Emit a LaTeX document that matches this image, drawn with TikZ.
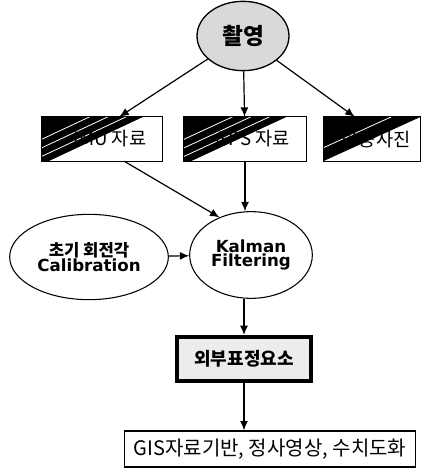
\documentclass[tikz,border=0pt]{standalone}
\usepackage{fontspec}
\setmainfont{DejaVu Sans}
\newfontfamily\kr{Noto Sans CJK KR}
\usepackage{tikz}
\usetikzlibrary{shapes.geometric}
\usetikzlibrary{positioning}
\usetikzlibrary{arrows.meta}
\usetikzlibrary{calc}
\tikzset{
  flow/.style={line width=0.9pt, -{Latex[length=7pt,width=6pt]}},
  oval/.style={ellipse, draw, line width=0.8pt, inner sep=0pt, align=center},
  databox/.style={rectangle, minimum height=33pt, inner sep=0pt},
  boxtext/.style={font=\kr\fontsize{14}{16}\selectfont},
}

\begin{document}
\begin{tikzpicture}[x=0.75pt, y=-0.75pt]

  \useasboundingbox (0,0) rectangle (422,470);

  % Define nodes
  \node[oval, fill=gray!30, line width=1pt, minimum width=69pt, minimum height=52pt] (shoot) at (243,36)
    {\kr\bfseries\fontsize{17}{20}\selectfont 촬영};

  \node[databox, minimum width=91pt] (imu) at (102,139) {};
  \node[databox, minimum width=92pt] (gps) at (245,139) {};
  \node[databox, minimum width=73pt] (photo) at (372,139) {};

  % Shaded boxes
  \foreach \b in {imu, gps} {
    \begin{scope}
      \clip (\b.north west) rectangle (\b.south east);
      \fill[black] (\b.north west) -- ($(\b.north west)!0.84!(\b.north east)$)
        -- ($(\b.south west)!0.06!(\b.south east)$) -- (\b.south west) -- cycle;
      \foreach \a in {0.7,0.55,0.4}
        \draw[white, line width=0.6pt] ($(\b.north west)!\a!(\b.north east)$)
          -- ($(\b.south west)!\a-0.78!(\b.south east)$);
    \end{scope}
    \draw[line width=0.8pt] (\b.north west) rectangle (\b.south east);
  }
  \begin{scope}
    \clip (photo.north west) rectangle (photo.south east);
    \fill[black] (photo.north west) -- (photo.north east) -- (photo.south west) -- cycle;
    \draw[white, line width=0.6pt] ($(photo.north west)!0.7!(photo.north east)$)
      -- ($(photo.south west)!-0.3!(photo.south east)$);
  \end{scope}
  \draw[line width=0.8pt] (photo.north west) rectangle (photo.south east);

  \node[boxtext, xshift=6pt] (imu_t) at (imu) {IMU 자료};
  \node[boxtext, xshift=6pt] (gps_t) at (gps) {GPS 자료};
  \node[boxtext, xshift=3pt] (photo_t) at (photo) {항공사진};

  \node[oval, minimum width=92pt, minimum height=65pt] (kalman) at (251,255)
    {\bfseries\fontsize{12.5}{15}\selectfont Kalman\\[-1pt]\bfseries\fontsize{12.5}{15}\selectfont Filtering};
  \node[oval, minimum width=119pt, minimum height=64pt] (calib) at (89,257)
    {\kr\bfseries\fontsize{12.5}{15}\selectfont 초기 회전각\\[-1pt]\bfseries\fontsize{12.5}{15}\selectfont Calibration};

  \node[rectangle, draw, line width=3pt, fill=gray!15, minimum width=101pt, minimum height=33pt] (ext) at (244,359)
    {\kr\bfseries\fontsize{13.5}{16}\selectfont 외부표정요소};

  \node[rectangle, draw, line width=1pt, minimum width=218pt, minimum height=27pt] (result) at (270,449)
    {\kr\fontsize{15}{18}\selectfont GIS자료기반, 정사영상, 수치도화};

  % Connect nodes
  \draw[flow] (shoot) -- (imu.52);
  \draw[flow] (shoot) -- (gps);
  \draw[flow] (shoot) -- (photo.128);

  \draw[flow] (imu.-45) -- (kalman.130);
  \draw[flow] (gps) -- (gps |- kalman.north);
  \draw[flow] (calib) -- (kalman);

  \draw[flow] (kalman.south -| ext) -- (ext);
  \draw[flow] (ext) -- (ext |- result.north);

\end{tikzpicture}
\end{document}
